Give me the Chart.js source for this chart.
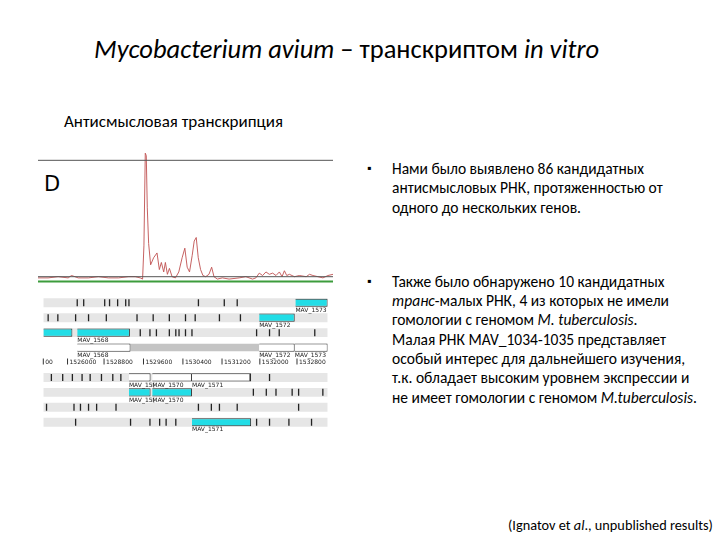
<!DOCTYPE html>
<html><head><meta charset="utf-8">
<script src="https://cdn.jsdelivr.net/npm/chart.js@4/dist/chart.umd.min.js"></script>
<style>
body{margin:0;width:720px;height:540px;background:#fff;font-family:Carlito,Calibri,"Liberation Sans",sans-serif;position:relative;overflow:hidden}
.t{position:absolute;color:#000}
#trace{position:absolute;left:38px;top:152px}
#tracks{position:absolute;left:38px;top:290px}
ul{margin:0;padding:0;list-style:none}
li{position:relative;padding-left:25px;line-height:19.3px}
li:before{content:"\25AA";position:absolute;left:0;top:0;font-size:12px}
</style></head><body>
<div class="t" style="left:94px;top:33px;font-size:26.5px"><i>Mycobacterium avium</i> – транскриптом <i>in vitro</i></div>
<div class="t" style="left:64px;top:111px;font-size:17px">Антисмысловая транскрипция</div>
<div class="t" style="left:44px;top:172px;font-size:21px;font-family:'DejaVu Sans',sans-serif">D</div>
<div class="t" style="left:367px;top:159px;width:345px;font-size:15.5px">
<ul>
<li style="width:285px">Нами было выявлено 86 кандидатных антисмысловых РНК, протяженностью от одного до нескольких генов.</li>
<li style="margin-top:55px;width:315px">Также было обнаружено 10 кандидатных <i>транс</i>-малых РНК, 4 из которых не имели гомологии с геномом <i>M. tuberculosis</i>.<br>Малая РНК MAV_1034-1035 представляет особый интерес для дальнейшего изучения, т.к. обладает высоким уровнем экспрессии и не имеет гомологии с геномом <i>M.tuberculosis</i>.</li>
</ul></div>
<div class="t" style="left:508px;top:516px;font-size:14.3px">(Ignatov et <i>al</i>., unpublished results)</div>
<canvas id="trace" width="295" height="133"></canvas>
<canvas id="tracks" width="295" height="145"></canvas>
<script>
// coverage trace, x in browser window units 0..880
const tracePos = [0,30,60,90,100,120,150,180,210,240,270,290,305,312,316,320,323,326,330,336,345,355,362,368,375,380,386,392,400,410,420,430,438,445,452,460,466,472,478,485,492,500,510,518,525,535,550,570,600,620,640,650,660,670,680,690,700,710,720,728,735,742,750,765,780,800,810,820,835,850,865,880];
const traceVal = [1,1,2,1,3,1,1,2,1,1,2,2,1,0,28,106,104,60,30,12,18,22,8,14,6,14,4,9,2,1,6,18,26,10,6,20,32,35,18,8,3,2,4,10,2,0,1,0,1,2,0,1,5,3,6,4,5,3,6,2,7,3,4,2,3,2,4,3,2,1,3,4];
const topLevel = 100, baseLevel = 2, greenLevel = -2;

// browser tracks
const rows = ['r1','r2','r3','r4','sc','r5','r6','r7','r8'];
const bandRows = ['r1','r2','r3','r5','r6','r7','r8'];
const geneRow   = ['r1','r2','r3','r3','r4','r4','r4','r5','r5','r5','r6','r6','r8'];
const geneStart = [780,668,0,105,105,668,778,265,337,460,265,337,460];
const geneEnd   = [880,778,90,268,270,778,880,332,460,643,332,460,643];
const geneCyan  = [1,1,1,1,0,0,0,0,0,0,1,1,1];
const geneName  = ['MAV_1573','MAV_1572','','MAV_1568','MAV_1568','MAV_1572','MAV_1573','MAV_15(','MAV_1570','MAV_1571','MAV_15(','MAV_1570','MAV_1571'];
const scaleLabels = ['00','1526000','1528800','1529600','1530400','1531200','1532000','1532800'];
const scalePos = [0,75,188,310,432,553,670,785];
const tickRow = ['r1','r1','r1','r1','r1','r1','r1','r1','r1','r1','r2','r2','r2','r2','r2','r2','r2','r2','r2','r2','r2','r2','r3','r3','r3','r3','r3','r3','r3','r3','r3','r3','r3','r3','r5','r5','r5','r5','r5','r5','r5','r5','r5','r5','r6','r6','r6','r6','r6','r6','r7','r7','r7','r7','r7','r7','r7','r7','r7','r7','r7','r8','r8','r8','r8','r8','r8','r8','r8','r8','r8'];
const tickPos = [105,125,190,205,230,255,265,480,560,600,15,45,100,140,195,290,340,390,440,470,545,610,300,330,350,390,410,420,440,460,660,700,730,840,25,60,90,120,145,180,215,240,640,700,650,690,720,770,790,865,10,95,115,140,165,225,480,520,545,600,790,100,270,330,360,380,410,660,700,760,830];

const lines = {id:'lines',afterDatasetsDraw(c){const x=c.scales.x,y=c.scales.y,g=c.ctx;
 [[topLevel,'#555'],[baseLevel,'#555'],[greenLevel,'#3c9c3c']].forEach(([v,col])=>{g.strokeStyle=col;g.lineWidth=col=='#555'?1:2;g.beginPath();g.moveTo(x.left,y.getPixelForValue(v));g.lineTo(x.right,y.getPixelForValue(v));g.stroke();});}};
new Chart(document.getElementById('trace'),{type:'line',
 data:{datasets:[{data:tracePos.map((p,i)=>({x:p,y:traceVal[i]})),borderColor:'#c05050',borderWidth:0.9,pointRadius:0,tension:0}]},
 options:{responsive:false,animation:false,layout:{padding:0},plugins:{legend:{display:false},tooltip:{enabled:false}},
  scales:{x:{type:'linear',min:0,max:880,display:false},y:{min:-5,max:107,display:false}}},
 plugins:[lines]});

const labels = {id:'labels',afterDatasetsDraw(c){const x=c.scales.x,y=c.scales.y,g=c.ctx;g.font='6px "DejaVu Sans"';g.fillStyle='#222';
 const h=y.getPixelForValue('r2')-y.getPixelForValue('r1');
 geneName.forEach((n,i)=>{if(n&&geneRow[i]!='r1'||i==0)g.fillText(n,x.getPixelForValue(geneStart[i]),y.getPixelForValue(geneRow[i])+h*0.62);});
 const sy=y.getPixelForValue('sc');g.strokeStyle='#333';
 scaleLabels.forEach((s,i)=>{const px=x.getPixelForValue(scalePos[i]);g.beginPath();g.moveTo(px,sy-4);g.lineTo(px,sy+2);g.stroke();g.fillText(s,px+2,sy+1);});}};
const gds=geneRow.map((r,i)=>({x:[geneStart[i],geneEnd[i]],y:r}));
new Chart(document.getElementById('tracks'),{type:'bar',
 data:{labels:rows,datasets:[
  {type:'scatter',data:tickPos.map((p,i)=>({x:p,y:tickRow[i]})),pointStyle:'line',rotation:90,radius:3.5,borderColor:'#222',borderWidth:1.3},
  {data:gds,backgroundColor:geneCyan.map(c=>c?'#22dde6':'#fff'),borderColor:'#333',borderWidth:1,grouped:false,barPercentage:0.55,categoryPercentage:1},
  {data:[{x:[270,668],y:'r4'},{x:[0,880],y:'sc'}],backgroundColor:['#c4c4c4','#fff'],grouped:false,barPercentage:0.5,categoryPercentage:1},
  {data:bandRows.map(r=>({x:[0,880],y:r})),backgroundColor:'#e6e6e6',grouped:false,barPercentage:0.6,categoryPercentage:1}]},
 options:{indexAxis:'y',responsive:false,animation:false,layout:{padding:0},plugins:{legend:{display:false},tooltip:{enabled:false}},
  scales:{x:{type:'linear',min:0,max:880,display:false},y:{type:'category',display:false}}},
 plugins:[labels]});
</script>
</body></html>
